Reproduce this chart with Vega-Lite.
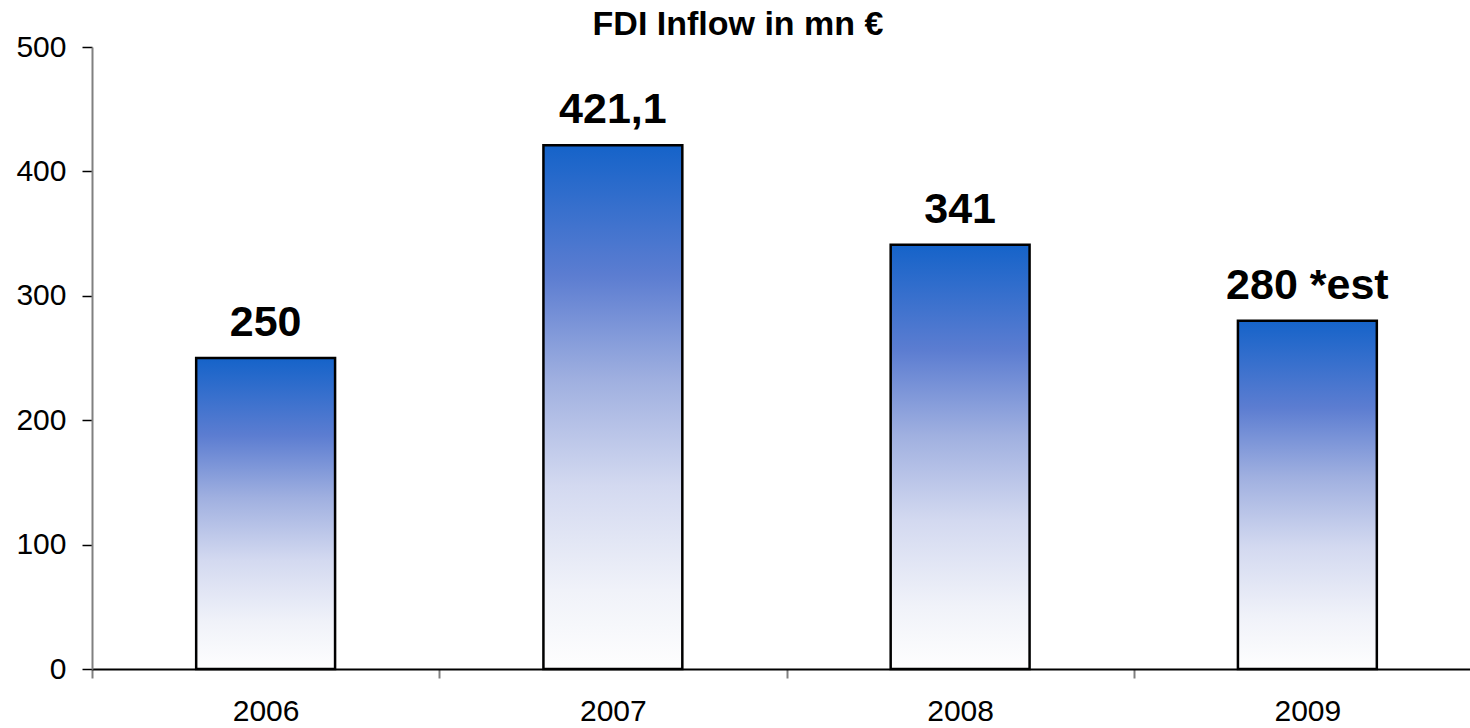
{
  "$schema": "https://vega.github.io/schema/vega-lite/v6.json",
  "autosize": {"type": "none"},
  "padding": {"left": 92, "top": 47, "right": 0, "bottom": 59},
  "width": 1378,
  "height": 622,
  "background": "white",
  "title": {
    "text": "FDI Inflow in mn €",
    "font": "Liberation Sans",
    "fontSize": 34,
    "fontWeight": "bold",
    "color": "black",
    "anchor": "middle",
    "dx": -43,
    "offset": -10
  },
  "config": {"view": {"stroke": null}},
  "data": {
    "values": [
      {"year": "2006", "value": 250, "label": "250"},
      {"year": "2007", "value": 421.1, "label": "421,1"},
      {"year": "2008", "value": 341, "label": "341"},
      {"year": "2009", "value": 280, "label": "280 *est"}
    ]
  },
  "encoding": {
    "x": {
      "field": "year",
      "type": "nominal",
      "sort": null,
      "scale": {"range": [0, 1389], "paddingInner": 0, "paddingOuter": 0},
      "axis": {
        "title": null,
        "labelAngle": 0,
        "labelFont": "Liberation Sans",
        "labelFontSize": 30,
        "labelColor": "black",
        "labelPadding": 18,
        "tickBand": "extent",
        "tickSize": 9,
        "tickColor": "#808080",
        "tickWidth": 2,
        "domainColor": "black",
        "domainWidth": 2,
        "grid": false
      }
    },
    "y": {
      "field": "value",
      "type": "quantitative",
      "scale": {"domain": [0, 500], "nice": false},
      "axis": {
        "title": null,
        "values": [0, 100, 200, 300, 400, 500],
        "labelFont": "Liberation Sans",
        "labelFontSize": 30,
        "labelColor": "black",
        "labelPadding": 16,
        "tickSize": 10,
        "tickColor": "black",
        "tickWidth": 1.5,
        "domainColor": "#808080",
        "domainWidth": 2,
        "grid": false
      }
    }
  },
  "layer": [
    {
      "mark": {
        "type": "bar",
        "width": {"band": 0.4},
        "stroke": "black",
        "strokeWidth": 2.5,
        "color": {
          "gradient": "linear",
          "x1": 0, "y1": 0, "x2": 0, "y2": 1,
          "stops": [
            {"offset": 0, "color": "#1563c9"},
            {"offset": 0.25, "color": "#5c7dd1"},
            {"offset": 0.45, "color": "#a0b0e0"},
            {"offset": 0.65, "color": "#d3d9f0"},
            {"offset": 0.85, "color": "#f0f2f9"},
            {"offset": 1, "color": "#fefefe"}
          ]
        }
      }
    },
    {
      "mark": {
        "type": "text",
        "font": "Liberation Sans",
        "fontSize": 43,
        "fontWeight": "bold",
        "color": "black",
        "baseline": "alphabetic",
        "dy": -22
      },
      "encoding": {"text": {"field": "label"}}
    }
  ]
}
